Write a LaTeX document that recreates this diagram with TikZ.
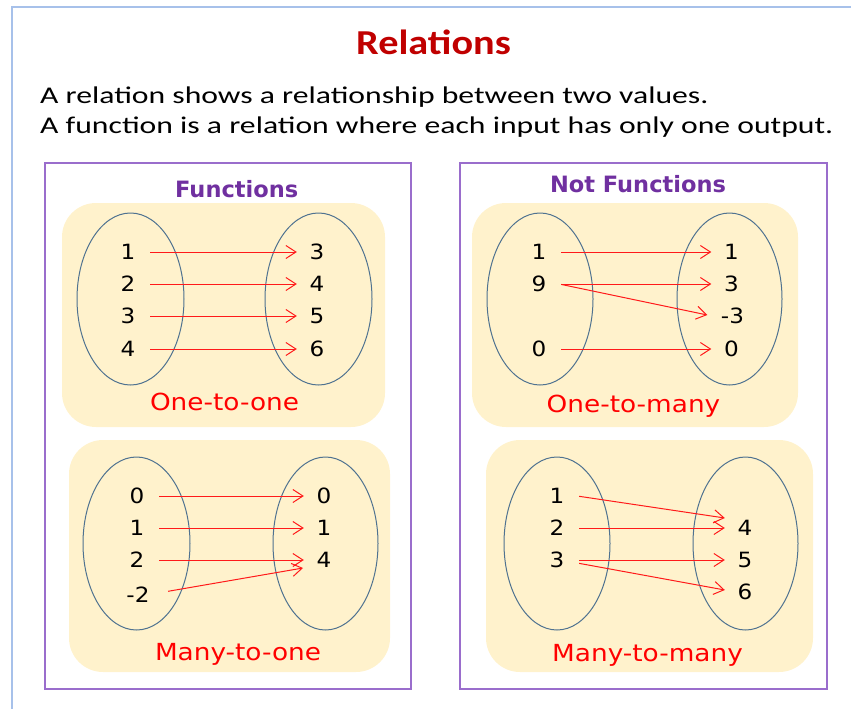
\documentclass[tikz,border=0pt]{standalone}
\usepackage{fontspec}
\setmainfont{Carlito}
\newfontfamily\bodyfont[FakeStretch=1.32]{Carlito}
\newfontfamily\titlefont[FakeStretch=1.15]{Carlito}
\newfontfamily\numfont[FakeStretch=1.1]{DejaVu Sans}
\newfontfamily\labfont[FakeStretch=1.12]{DejaVu Sans}
\newfontfamily\headfont{DejaVu Sans}
\usetikzlibrary{arrows.meta,shapes.geometric}
\definecolor{frameblue}{HTML}{A7C1EA}
\definecolor{boxpurple}{HTML}{9A6DCC}
\definecolor{headpurple}{HTML}{7030A0}
\definecolor{cream}{HTML}{FFF2CC}
\definecolor{ellgray}{HTML}{4F7290}
\definecolor{titlered}{HTML}{C00000}
\definecolor{arrred}{HTML}{FF1A1A}
\tikzset{
  panel/.style={draw=boxpurple, line width=1.5pt},
  card/.style={fill=cream, rounded corners=34pt, inner sep=0pt},
  setell/.style={draw=ellgray, line width=1pt, ellipse, inner sep=0pt},
  num/.style={font=\numfont\fontsize{21}{25}\selectfont, inner sep=0pt, minimum width=40pt, text height=15pt, text depth=0pt},
  arr/.style={draw=arrred, line width=1pt, shorten <=2pt, -{Straight Barb[length=10pt,width=13pt]}},
  head/.style={font=\headfont\bfseries\fontsize{22.5}{26}\selectfont, text=headpurple, anchor=base, inner sep=0pt},
  lab/.style={font=\labfont\fontsize{23.5}{28}\selectfont, text=red, anchor=base, inner sep=0pt},
  body/.style={font=\bodyfont\fontsize{24}{28}\selectfont, anchor=base west, inner sep=0pt}
}
\begin{document}
\begin{tikzpicture}[x=1pt,y=-1pt]
\useasboundingbox (0,0) rectangle (851,709);
\draw[frameblue, line width=2pt] (12,709) -- (12,7) -- (851,7);

\node[font=\titlefont\bfseries\fontsize{35}{40}\selectfont, text=titlered, anchor=base, inner sep=0pt] (title) at (433.5,55) {Relations};
\node[body] (line1) at (40,103) {A relation shows a relationship between two values.};
\node[body] (line2) at (40,133) {A function is a relation where each input has only one output.};

% panels
\draw[panel] (45,163) rectangle (411,689);
\draw[panel] (460,163) rectangle (827,689);
\node[head] (hf) at (236.7,197) {Functions};
\node[head] (hnf) at (638,192) {Not Functions};

% cards
\node[card, minimum width=323pt, minimum height=224pt] (c1) at (223.5,315) {};
\node[card, minimum width=321pt, minimum height=232pt] (c2) at (229.5,556) {};
\node[card, minimum width=326pt, minimum height=224pt] (c3) at (635,315) {};
\node[card, minimum width=327pt, minimum height=232pt] (c4) at (649.5,556) {};

% ellipses
\node[setell, minimum width=107pt, minimum height=172pt] (e1) at (130.5,299) {};
\node[setell, minimum width=107pt, minimum height=172pt] (e2) at (318.5,299) {};
\node[setell, minimum width=107pt, minimum height=173pt] (e3) at (136.5,543.5) {};
\node[setell, minimum width=105pt, minimum height=173pt] (e4) at (325.5,543.5) {};
\node[setell, minimum width=106pt, minimum height=172pt] (e5) at (540,299) {};
\node[setell, minimum width=105pt, minimum height=172pt] (e6) at (729.5,299) {};
\node[setell, minimum width=106pt, minimum height=173pt] (e7) at (557,543.5) {};
\node[setell, minimum width=105pt, minimum height=173pt] (e8) at (745.5,543.5) {};

% one-to-one
\node[num] (a1) at (128,252) {1};
\node[num] (a2) at (128,284) {2};
\node[num] (a3) at (128,316) {3};
\node[num] (a4) at (128,349) {4};
\node[num] (b1) at (317,252) {3};
\node[num] (b2) at (317,284) {4};
\node[num] (b3) at (317,316) {5};
\node[num] (b4) at (317,349) {6};
\draw[arr] (a1.east) -- (b1.west);
\draw[arr] (a2.east) -- (b2.west);
\draw[arr] (a3.east) -- (b3.west);
\draw[arr] (a4.east) -- (b4.west);
\node[lab] (l1) at (224.5,410) {One-to-one};

% many-to-one
\node[num] (c1n) at (137,496) {0};
\node[num] (c2n) at (137,528) {1};
\node[num] (c3n) at (137,560) {2};
\node[num] (c4n) at (138,595) {-2};
\node[num] (d1) at (324,496) {0};
\node[num] (d2) at (324,528) {1};
\node[num] (d3) at (324,560) {4};
\coordinate (d3low) at (303,568);
\draw[arr] (c1n.east) -- (d1.west);
\draw[arr] (c2n.east) -- (d2.west);
\draw[arr] (c3n.east) -- (d3.west);
\draw[arr, shorten <=10pt] ([yshift=2pt]c4n.east) -- (d3low);
\node[lab] (l2) at (238,660) {Many-to-one};

% one-to-many
\node[num] (f1) at (539,252) {1};
\node[num] (f2) at (539,284) {9};
\node[num] (f3) at (539,349) {0};
\node[num] (g1) at (731.5,252) {1};
\node[num] (g2) at (731.5,284) {3};
\node[num] (g3) at (732.5,316) {-3};
\node[num] (g4) at (731.5,349) {0};
\draw[arr] (f1.east) -- (g1.west);
\draw[arr] (f2.east) -- (g2.west);
\draw[arr] (f2.east) -- ([xshift=-5pt,yshift=1pt]g3.west);
\draw[arr] (f3.east) -- (g4.west);
\node[lab] (l3) at (633.5,412) {One-to-many};

% many-to-many
\node[num] (h1) at (557,496) {1};
\node[num] (h2) at (557,528) {2};
\node[num] (h3) at (557,560) {3};
\node[num] (k1) at (745,528) {4};
\node[num] (k2) at (745,560) {5};
\node[num] (k3) at (745,592) {6};
\draw[arr] (h1.east) -- ([yshift=10pt]k1.west);
\draw[arr] (h2.east) -- (k1.west);
\draw[arr] (h3.east) -- (k2.west);
\draw[arr] ([yshift=-3pt]h3.east) -- ([yshift=2pt]k3.west);
\node[lab] (l4) at (647.5,661) {Many-to-many};
\end{tikzpicture}
\end{document}
